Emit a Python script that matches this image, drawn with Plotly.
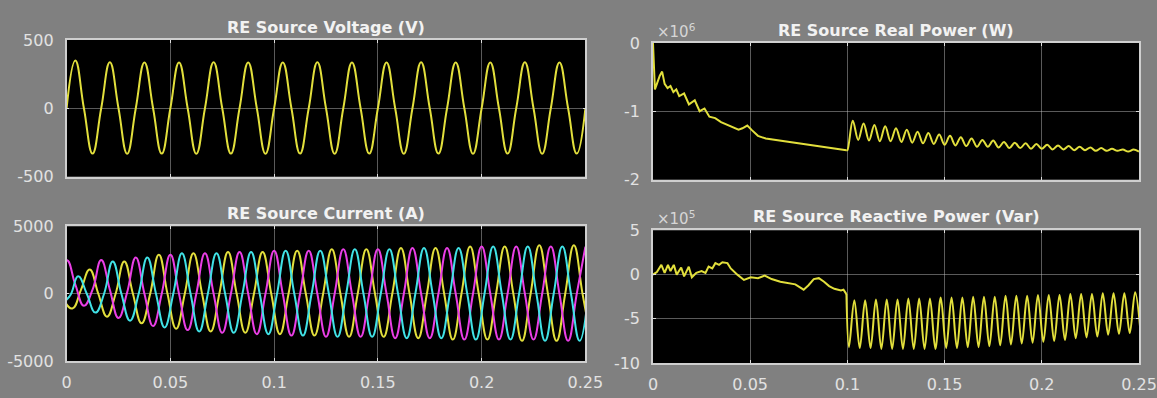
import numpy as np
import plotly.graph_objects as go

# ---------------- data ----------------
T = 1 / 60  # period of the 60 Hz waveforms (s)

# RE source voltage (V), sampled every quarter period from t = 0
volt_q = [
    0, 350, 0, -332,
    0, 336, 0, -333,
    0, 335, 0, -332,
    0, 335, 0, -333,
    0, 336, 0, -332,
    0, 335, 0, -333,
    0, 335, 0, -332,
    0, 336, 0, -333,
    0, 335, 0, -332,
    0, 335, 0, -333,
    0, 336, 0, -332,
    0, 335, 0, -333,
    0, 335, 0, -332,
    0, 336, 0, -333,
    0, 335, 0, -332,
    0,
]

# RE source current (A), three phases, quarter-period samples
cur_yellow = [
    800, -500, -1100, 300,
    1800, 0, -1700, 0,
    2400, 0, -2200, 0,
    2900, 0, -2600, 0,
    3000, 0, -2800, 0,
    3100, 0, -2900, 0,
    3100, 0, -3000, 0,
    3200, 0, -3100, 0,
    3300, 0, -3200, 0,
    3300, 0, -3200, 0,
    3400, 0, -3300, 0,
    3400, 0, -3400, 0,
    3500, 0, -3400, 0,
    3500, 0, -3500, 0,
    3600, 0, -3500, 0,
    3600, 0, -3500,
]
cur_magenta = [
    1500, 2500, 700, -900,
    300, 2500, 300, -1800,
    100, 2700, 0, -2400,
    0, 2900, 0, -2700,
    0, 3000, 0, -2900,
    0, 3100, 0, -3000,
    0, 3200, 0, -3100,
    0, 3200, 0, -3200,
    0, 3300, 0, -3200,
    0, 3300, 0, -3300,
    0, 3400, 0, -3300,
    0, 3400, 0, -3400,
    0, 3500, 0, -3400,
    0, 3500, 0, -3400,
    0, 3500, 0, -3500,
    0, 3500,
]
cur_cyan = [
    1000, 300, -600, -200,
    1300, 0, -1400, 0,
    2400, 0, -2000, 0,
    2700, 0, -2500, 0,
    3000, 0, -2800, 0,
    3000, 0, -2900, 0,
    3100, 0, -3000, 0,
    3200, 0, -3100, 0,
    3200, 0, -3200, 0,
    3300, 0, -3200, 0,
    3300, 0, -3300, 0,
    3400, 0, -3300, 0,
    3400, 0, -3400, 0,
    3500, 0, -3400, 0,
    3500, 0, -3500, 0,
    3500, 0, -3500, 0,
]

# RE source real power (x1e6 W)
p_pre_t = [0, 0.0004, 0.001, 0.002, 0.0035, 0.0047, 0.006, 0.0075, 0.009, 0.0105,
           0.012, 0.0135, 0.016, 0.0185, 0.0215, 0.024, 0.0265, 0.029, 0.032, 0.035,
           0.038, 0.041, 0.044, 0.046, 0.0485, 0.051, 0.054, 0.058, 0.063, 0.068,
           0.073, 0.078, 0.083, 0.088, 0.093, 0.097, 0.0995]
p_pre = [0.0, -0.3, -0.68, -0.6, -0.48, -0.42, -0.6, -0.66, -0.63, -0.72,
         -0.68, -0.78, -0.74, -0.9, -0.84, -1.0, -0.96, -1.08, -1.1, -1.16,
         -1.2, -1.23, -1.27, -1.25, -1.21, -1.28, -1.36, -1.4, -1.42, -1.44,
         -1.46, -1.48, -1.5, -1.52, -1.54, -1.56, -1.57]
# after 0.1 s: half-period samples of the 180 Hz oscillation
p_osc = [-1.57, -1.14, -1.42, -1.18, -1.43, -1.20, -1.44, -1.22, -1.44, -1.25,
         -1.45, -1.27, -1.46, -1.30, -1.47, -1.32, -1.48, -1.34, -1.49, -1.36,
         -1.50, -1.38, -1.51, -1.40, -1.52, -1.42, -1.52, -1.43, -1.53, -1.45,
         -1.54, -1.46, -1.54, -1.47, -1.55, -1.48, -1.55, -1.49, -1.56, -1.50,
         -1.56, -1.51, -1.57, -1.52, -1.57, -1.53, -1.58, -1.54, -1.58, -1.55,
         -1.58, -1.56, -1.59, -1.56, -1.59]

# RE source reactive power (x1e5 Var)
q_pre_t = [0, 0.002, 0.0043, 0.006, 0.0077, 0.009, 0.0107, 0.0122, 0.0145, 0.016,
           0.0184, 0.02, 0.0223, 0.025, 0.027, 0.0286, 0.0305, 0.0321, 0.034, 0.0357,
           0.0383, 0.04, 0.0434, 0.0468, 0.0503, 0.054, 0.0575, 0.061, 0.0655, 0.07,
           0.0732, 0.0775, 0.08, 0.0827, 0.0853, 0.088, 0.0906, 0.0933, 0.0967, 0.098,
           0.0995]
q_pre = [0, 0.3, 1.1, 0.2, 1.1, 0.4, 1.1, 0.0, 0.8, -0.2,
         0.9, -0.3, 0.2, 0.4, 0.2, 0.9, 0.7, 1.3, 1.1, 1.4,
         1.3, 0.7, 0.0, -0.6, -0.3, -0.4, -0.1, -0.5, -0.8, -1.0,
         -1.1, -1.7, -1.2, -0.5, -0.4, -0.8, -1.3, -1.6, -1.8, -1.7,
         -2.2]
q_osc = [-8.2, -2.9, -8.3, -2.9, -8.3, -2.8, -8.4, -2.8, -8.4, -2.8,
         -8.4, -2.7, -8.4, -2.7, -8.4, -2.7, -8.4, -2.6, -8.3, -2.6,
         -8.3, -2.6, -8.2, -2.5, -8.2, -2.5, -8.1, -2.5, -8.0, -2.4,
         -7.9, -2.4, -7.8, -2.4, -7.7, -2.3, -7.6, -2.3, -7.5, -2.3,
         -7.4, -2.2, -7.2, -2.2, -7.1, -2.2, -7.0, -2.1, -6.8, -2.1,
         -6.7, -2.1, -6.6, -2.0, -6.5]

x_ticks = [0, 0.05, 0.1, 0.15, 0.2, 0.25]
x_ticktext = ["0", "0.05", "0.1", "0.15", "0.2", "0.25"]

# ---------------- derived sample times ----------------
t_volt = np.arange(len(volt_q)) * T / 4
t_yellow = -T / 3 + np.arange(len(cur_yellow)) * T / 4
t_magenta = -T / 4 + np.arange(len(cur_magenta)) * T / 4
t_cyan = -2 * T / 3 + np.arange(len(cur_cyan)) * T / 4
t_p_osc = 0.1 + np.arange(len(p_osc)) / 360
t_q_osc = 0.1008 + np.arange(len(q_osc)) / 360

YEL = "#e2df3c"
MAG = "#ea3ee6"
CYA = "#40e2e6"

fig = go.Figure()

fig.add_trace(go.Scatter(x=t_volt, y=volt_q, mode="lines", xaxis="x", yaxis="y",
                         line=dict(color=YEL, width=2, shape="spline", smoothing=1.3)))
for t_, v_, c_ in [(t_yellow, cur_yellow, YEL), (t_magenta, cur_magenta, MAG),
                   (t_cyan, cur_cyan, CYA)]:
    fig.add_trace(go.Scatter(x=t_, y=v_, mode="lines", xaxis="x2", yaxis="y2",
                             line=dict(color=c_, width=2, shape="spline", smoothing=1.3)))

fig.add_trace(go.Scatter(x=p_pre_t, y=p_pre, mode="lines", xaxis="x3", yaxis="y3",
                         line=dict(color=YEL, width=2)))
fig.add_trace(go.Scatter(x=np.concatenate([[p_pre_t[-1]], t_p_osc]),
                         y=[p_pre[-1]] + p_osc, mode="lines", xaxis="x3", yaxis="y3",
                         line=dict(color=YEL, width=2, shape="spline", smoothing=1.0)))

fig.add_trace(go.Scatter(x=q_pre_t, y=q_pre, mode="lines", xaxis="x4", yaxis="y4",
                         line=dict(color=YEL, width=2)))
fig.add_trace(go.Scatter(x=np.concatenate([[q_pre_t[-1]], t_q_osc]),
                         y=[q_pre[-1]] + q_osc, mode="lines", xaxis="x4", yaxis="y4",
                         line=dict(color=YEL, width=2, shape="spline", smoothing=1.0)))

W, H = 1157, 398
# measured placement of the figure in the photographed page (body margin 0):
# origin (3, 9), scale (0.9862, 0.9548); convert target positions accordingly
def fx(X):
    return min(max((X - 3) / 0.9862 / W, 0), 1)
def fy(Y):
    return min(max(1 - (Y - 9) / 0.9548 / H, 0), 1)
def px_x(a, b):
    return [fx(a), fx(b)]
def px_y(top, bottom):
    return [fy(bottom), fy(top)]

FONT = "DejaVu Sans"
tickfont = dict(family=FONT, size=16, color="#e2e2e2")
common = dict(showline=True, mirror="ticks", linecolor="#cfcfcf", linewidth=1.5,
              showgrid=True, gridcolor="rgba(200,200,200,0.45)", gridwidth=1,
              zeroline=False, ticks="inside", ticklen=3, tickcolor="#dddddd",
              tickfont=tickfont, fixedrange=True)

LX = px_x(65, 587)
RX = px_x(655, 1145)

def xax(domain, anchor, labels):
    d = dict(common)
    d.update(domain=domain, anchor=anchor, range=[0, 0.25], tickvals=x_ticks,
             ticktext=x_ticktext, showticklabels=labels, ticklabelstandoff=6)
    return d

def yax(domain, anchor, rng, vals, text):
    d = dict(common)
    d.update(domain=domain, anchor=anchor, range=rng, tickvals=vals, ticktext=text,
             ticklabelstandoff=8)
    return d

fig.update_layout(
    width=W, height=H, autosize=False,
    margin=dict(l=0, r=0, t=0, b=0),
    paper_bgcolor="#808080", plot_bgcolor="#000000",
    showlegend=False,
    xaxis=xax(LX, "y", False),
    yaxis=yax(px_y(40, 177), "x", [-500, 500], [-500, 0, 500], ["-500", "0", "500"]),
    xaxis2=xax(LX, "y2", True),
    yaxis2=yax(px_y(227, 362), "x2", [-5000, 5000], [-5000, 0, 5000], ["-5000", "0", "5000"]),
    xaxis3=xax(RX, "y3", False),
    yaxis3=yax(px_y(43, 180), "x3", [-2, 0], [-2, -1, 0], ["-2", "-1", "0"]),
    xaxis4=xax(RX, "y4", True),
    yaxis4=yax(px_y(231, 364), "x4", [-10, 5], [-10, -5, 0, 5], ["-10", "-5", "0", "5"]),
)

titles = [
    ("RE Source Voltage (V)", (65 + 587) / 2, 27.5),
    ("RE Source Current (A)", (65 + 587) / 2, 214),
    ("RE Source Real Power (W)", (655 + 1145) / 2, 31),
    ("RE Source Reactive Power (Var)", (655 + 1145) / 2, 217),
]
for txt, cx, cy in titles:
    fig.add_annotation(text="<b>" + txt + "</b>", x=fx(cx), y=fy(cy),
                       xref="paper", yref="paper", xanchor="center", yanchor="middle",
                       showarrow=False, font=dict(family=FONT, size=16, color="#f2f2f2"))

for txt, cy in [("×10<sup>6</sup>", 31), ("×10<sup>5</sup>", 219)]:
    fig.add_annotation(text=txt, x=fx(657), y=fy(cy), xref="paper", yref="paper",
                       xanchor="left", yanchor="middle", showarrow=False,
                       font=dict(family=FONT, size=15, color="#d6d6d6"))

fig.write_html("out.html", config={"displayModeBar": False},
               post_script="document.body.style.margin='0';")
